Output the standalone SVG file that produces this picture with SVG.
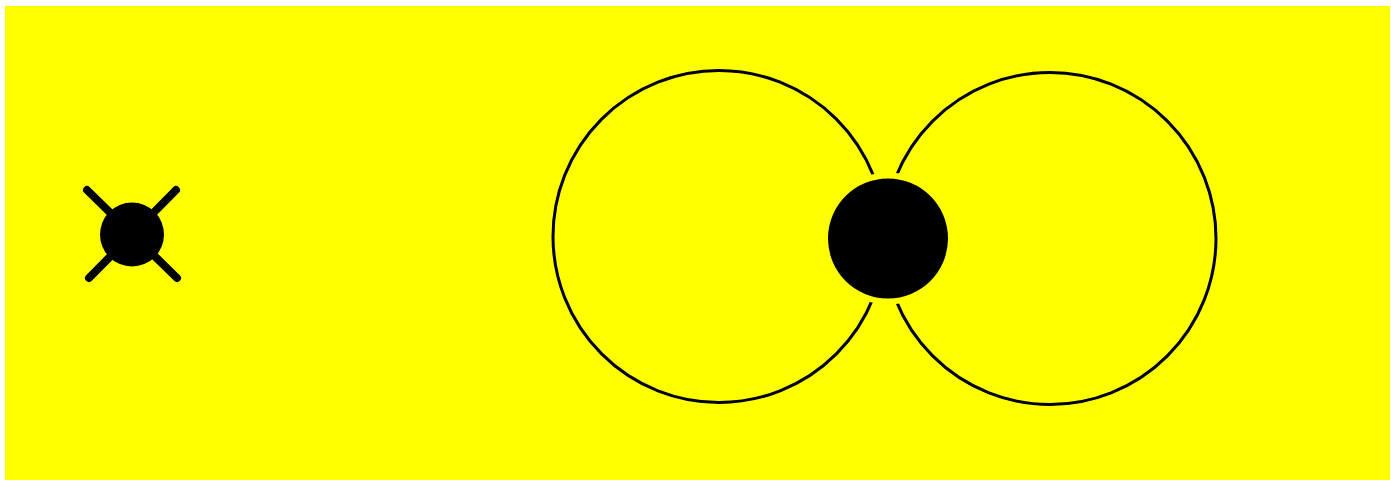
<svg xmlns="http://www.w3.org/2000/svg" width="1391" height="481" viewBox="0 0 1391 481">
  <style>
    .loop { fill: none; stroke: #000000; stroke-width: 3; }
    .blob { fill: #000000; }
    .leg { stroke: #000000; stroke-width: 8; stroke-linecap: round; }
  </style>
  <rect x="0" y="0" width="1391" height="481" fill="#ffffff"/>
  <rect x="5" y="6" width="1385" height="474" fill="#ffff00"/>
  <g id="connectors">
    <circle class="loop" cx="719" cy="236.5" r="166"/>
    <circle class="loop" cx="1050" cy="238.5" r="166"/>
  </g>
  <g id="node-left">
    <line class="leg" x1="87" y1="190" x2="177" y2="278"/>
    <line class="leg" x1="176" y1="190" x2="89" y2="278"/>
    <circle class="blob" cx="132" cy="234.5" r="32"/>
  </g>
  <g id="node-center">
    <circle cx="888" cy="238.5" r="66" fill="#ffff00"/>
    <circle class="blob" cx="888" cy="238.5" r="60"/>
  </g>
</svg>
